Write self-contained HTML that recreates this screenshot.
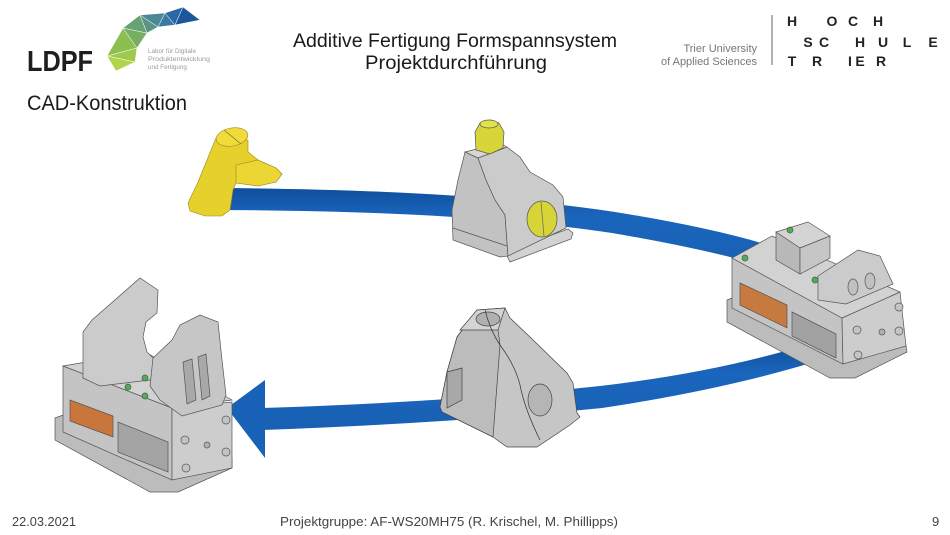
<!DOCTYPE html>
<html><head><meta charset="utf-8">
<style>html,body{margin:0;padding:0;background:#fff}svg{display:block}</style></head>
<body>
<svg width="950" height="535" viewBox="0 0 950 535" xmlns="http://www.w3.org/2000/svg" font-family="'Liberation Sans', sans-serif">
<defs>
<linearGradient id="bl" x1="0" y1="0" x2="0" y2="1">
<stop offset="0" stop-color="#0f4f9c"/><stop offset="0.35" stop-color="#1a66bd"/><stop offset="1" stop-color="#1860b3"/>
</linearGradient>
</defs>
<rect width="950" height="535" fill="#fff"/>

<!-- Logo LDPF -->
<text x="27" y="71" font-size="29" font-weight="bold" fill="#1e1e1e" textLength="66" lengthAdjust="spacingAndGlyphs">LDPF</text>
<g stroke="#fff" stroke-width="0.5">
<polygon points="107,56 123,28 137,48" fill="#8cbf50"/>
<polygon points="107,56 137,48 135,62" fill="#9fc94c"/>
<polygon points="107,56 135,62 116,71" fill="#b2d44a"/>
<polygon points="123,28 147,33 137,48" fill="#78ae63"/>
<polygon points="123,28 140,15 147,33" fill="#68a274"/>
<polygon points="140,15 158,27 147,33" fill="#5a9484"/>
<polygon points="140,15 165,13 158,27" fill="#4b8895"/>
<polygon points="165,13 175,25 158,27" fill="#3c79a0"/>
<polygon points="165,13 183,7 175,25" fill="#2b67a6"/>
<polygon points="183,7 200,20 175,25" fill="#1d569a"/>
</g>
<text x="148" y="53" font-size="6.3" fill="#9a9a9a">Labor für Digitale</text>
<text x="148" y="61" font-size="6.3" fill="#9a9a9a" textLength="62" lengthAdjust="spacingAndGlyphs">Produktentwicklung</text>
<text x="148" y="69" font-size="6.3" fill="#9a9a9a">und Fertigung</text>

<text x="27" y="110" font-size="21" fill="#1a1a1a" textLength="160" lengthAdjust="spacingAndGlyphs">CAD-Konstruktion</text>

<!-- Title -->
<text x="293" y="47" font-size="19.5" fill="#1a1a1a" textLength="324" lengthAdjust="spacingAndGlyphs">Additive Fertigung Formspannsystem</text>
<text x="365" y="69" font-size="19.5" fill="#1a1a1a" textLength="182" lengthAdjust="spacingAndGlyphs">Projektdurchführung</text>

<!-- Right logo -->
<text x="757" y="52" font-size="11" fill="#777" text-anchor="end">Trier University</text>
<text x="757" y="65" font-size="11" fill="#777" text-anchor="end">of Applied Sciences</text>
<line x1="772" y1="15" x2="772" y2="65" stroke="#666" stroke-width="1"/>
<g font-size="14" font-weight="bold" fill="#222" text-anchor="middle">
<text x="792" y="26">H</text><text x="832" y="26">O</text><text x="853" y="26">C</text><text x="878" y="26">H</text>
<text x="808" y="47">S</text><text x="824" y="47">C</text><text x="860" y="47">H</text><text x="883" y="47">U</text><text x="907" y="47">L</text><text x="933" y="47">E</text>
<text x="792" y="66">T</text><text x="817" y="66">R</text><text x="850" y="66">I</text><text x="860" y="66">E</text><text x="881" y="66">R</text>
</g>

<!-- Blue bands -->
<path d="M222,188 Q470,190 615,212 Q715,228 778,248 L778,270 Q712,250 612,233 Q468,211 222,210 Z" fill="url(#bl)"/>
<path d="M262,408 Q450,402 600,386 Q720,372 812,343 L814,362 Q722,390 602,408 Q452,423 262,430 Z" fill="url(#bl)"/>
<polygon points="227,408 265,380 265,458" fill="#1862b7"/>

<!-- Faucet -->
<g stroke="#9a8a1a" stroke-width="0.6">
<polygon points="216,138 207,160 198,182 188,203 190,211 205,216 222,216 230,210 233,190 236,183 258,186 276,182 282,174 276,168 258,160 248,152 248,140" fill="#e6d02c"/>
<polygon points="236,165 258,160 276,168 282,174 276,182 258,186 236,183" fill="#ecd635"/>
<ellipse cx="232" cy="137" rx="16" ry="9" transform="rotate(-10 232 137)" fill="#f0da3c"/>
<line x1="224" y1="130" x2="241" y2="144" stroke="#7a6a10"/>
</g>

<!-- Center-top block -->
<g stroke="#555" stroke-width="0.7">
<polygon points="505,252 568,229 573,233 571,239 510,262" fill="#d2d2d2"/>
<polygon points="465,152 478,158 486,180 495,200 505,215 508,256 500,257 453,240 452,210 458,180" fill="#c2c2c2"/>
<polygon points="478,158 507,147 520,157 530,172 553,185 563,197 566,228 508,256 505,215 495,200 486,180" fill="#cbcbcb"/>
<polygon points="465,152 500,143 507,147 478,158" fill="#d6d6d6"/>
<line x1="453" y1="228" x2="507" y2="246" />
<polygon points="476,150 475,132 480,123 490,120 499,123 504,132 503,148 490,154" fill="#d7d53a"/>
<ellipse cx="489" cy="124" rx="9" ry="4" fill="#e4e24c"/>
<ellipse cx="542" cy="219" rx="15" ry="18" fill="#d6d436"/>
<line x1="541" y1="202" x2="544" y2="236" stroke="#666"/>
</g>

<!-- Right vise -->
<g stroke="#555" stroke-width="0.7">
<polygon points="727,300 737,296 850,355 905,340 907,352 855,378 830,378 727,322" fill="#bcbcbc"/>
<polygon points="732,258 842,318 843,364 732,308" fill="#c4c4c4"/>
<polygon points="740,283 787,305 787,328 740,305" fill="#c67a40"/>
<polygon points="792,312 836,334 836,358 792,336" fill="#a2a2a2"/>
<polygon points="842,318 900,292 906,346 843,364" fill="#cdcdcd"/>
<polygon points="732,258 772,236 900,292 842,318" fill="#d2d2d2"/>
<polygon points="776,232 808,222 830,236 800,248" fill="#d4d4d4"/>
<polygon points="776,232 800,248 800,274 776,260" fill="#b8b8b8"/>
<polygon points="800,248 830,236 830,258 800,274" fill="#c6c6c6"/>
<polygon points="818,276 858,250 880,256 893,284 846,304 818,300" fill="#cbcbcb"/>
<ellipse cx="853" cy="287" rx="5" ry="8" fill="#c0c0c0"/>
<ellipse cx="870" cy="281" rx="5" ry="8" fill="#c0c0c0"/>
<circle cx="857" cy="330" r="4" fill="#c4c4c4"/>
<circle cx="899" cy="307" r="4" fill="#c4c4c4"/>
<circle cx="899" cy="331" r="4" fill="#c4c4c4"/>
<circle cx="858" cy="355" r="4" fill="#c4c4c4"/>
<circle cx="882" cy="332" r="3" fill="#b0b0b0"/>
<circle cx="745" cy="258" r="3" fill="#4caf50"/>
<circle cx="790" cy="230" r="3" fill="#4caf50"/>
<circle cx="815" cy="280" r="3" fill="#4caf50"/>
</g>

<!-- Bottom center object -->
<g stroke="#444" stroke-width="0.7">
<polygon points="457,337 477,310 505,308 510,318 530,337 567,373 573,383 577,413 580,417 570,425 537,447 507,447 493,437 442,412 440,407 447,372" fill="#c6c6c6"/>
<polygon points="457,337 477,310 498,330 500,345 493,437 442,412 440,407 447,372" fill="#bcbcbc"/>
<polygon points="460,330 477,310 505,308 498,330" fill="#d4d4d4"/>
<ellipse cx="488" cy="319" rx="12" ry="7" fill="#b0b0b0"/>
<path d="M485,310 Q490,330 500,345 Q515,365 520,385 Q525,410 540,440" fill="none" stroke="#333"/>
<polygon points="447,372 462,368 462,400 447,408" fill="#a8a8a8"/>
<ellipse cx="540" cy="400" rx="12" ry="16" fill="#b5b5b5"/>
</g>

<!-- Left vise -->
<g stroke="#555" stroke-width="0.7">
<polygon points="55,418 63,415 172,470 232,458 232,468 178,492 150,492 55,440" fill="#bcbcbc"/>
<polygon points="63,366 172,408 172,480 63,432" fill="#c4c4c4"/>
<polygon points="70,400 113,416 113,437 70,421" fill="#c8763c"/>
<polygon points="118,422 168,442 168,472 118,452" fill="#a4a4a4"/>
<polygon points="172,408 232,402 232,468 172,480" fill="#cdcdcd"/>
<polygon points="63,366 145,352 232,400 172,408" fill="#d2d2d2"/>
<polygon points="83,378 83,332 92,320 140,278 158,290 157,313 146,322 143,337 147,352 160,365 172,372 150,380 100,386" fill="#cbcbcb"/>
<polygon points="150,386 153,358 172,340 180,325 200,315 218,322 222,360 226,395 222,405 182,416 160,400" fill="#c6c6c6"/>
<polygon points="183,362 192,359 196,400 187,404" fill="#a8a8a8"/>
<polygon points="198,357 206,354 210,396 202,400" fill="#a8a8a8"/>
<circle cx="145" cy="378" r="3" fill="#4caf50"/>
<circle cx="128" cy="387" r="3" fill="#4caf50"/>
<circle cx="145" cy="396" r="3" fill="#4caf50"/>
<circle cx="185" cy="440" r="4" fill="#c4c4c4"/>
<circle cx="226" cy="420" r="4" fill="#c4c4c4"/>
<circle cx="186" cy="468" r="4" fill="#c4c4c4"/>
<circle cx="226" cy="452" r="4" fill="#c4c4c4"/>
<circle cx="207" cy="445" r="3" fill="#b0b0b0"/>
</g>

<!-- Footer -->
<text x="12" y="526" font-size="13" fill="#444" textLength="64" lengthAdjust="spacingAndGlyphs">22.03.2021</text>
<text x="280" y="526" font-size="13" fill="#444" textLength="338" lengthAdjust="spacingAndGlyphs">Projektgruppe: AF-WS20MH75 (R. Krischel, M. Phillipps)</text>
<text x="932" y="526" font-size="13" fill="#444">9</text>
</svg>
</body></html>
